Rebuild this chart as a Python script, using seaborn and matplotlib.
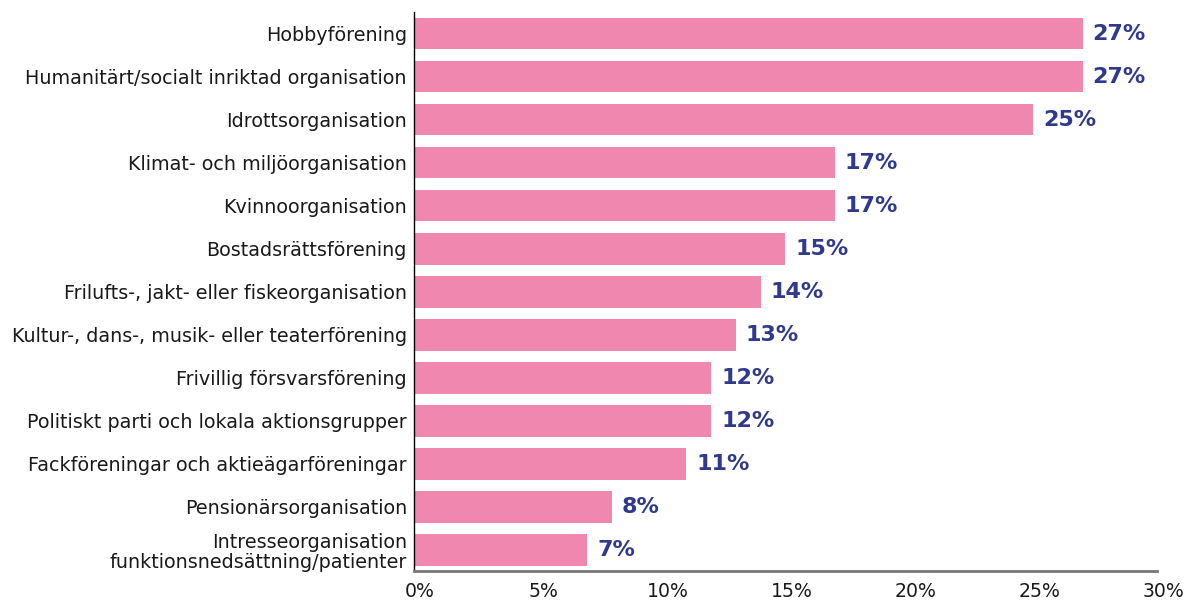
import pandas as pd
import matplotlib.pyplot as plt
import matplotlib.transforms as mtransforms
import seaborn as sns

categories = [
    "Hobbyförening",
    "Humanitärt/socialt inriktad organisation",
    "Idrottsorganisation",
    "Klimat- och miljöorganisation",
    "Kvinnoorganisation",
    "Bostadsrättsförening",
    "Frilufts-, jakt- eller fiskeorganisation",
    "Kultur-, dans-, musik- eller teaterförening",
    "Frivillig försvarsförening",
    "Politiskt parti och lokala aktionsgrupper",
    "Fackföreningar och aktieägarföreningar",
    "Pensionärsorganisation",
    "Intresseorganisation\nfunktionsnedsättning/patienter",
]
shares = [27, 27, 25, 17, 17, 15, 14, 13, 12, 12, 11, 8, 7]
xticks = [0, 5, 10, 15, 20, 25, 30]

data = pd.DataFrame({"category": categories, "share": shares})

sns.set_style("white")
plt.rcParams["font.family"] = ["DejaVu Sans"]

fig = plt.figure(figsize=(11.86, 6), dpi=100)
ax = fig.add_axes([0.349, 0.048, 0.6266, 0.932])

sns.barplot(data=data, x="share", y="category", color="#F087AF",
            saturation=1, width=0.74, linewidth=0, ax=ax)

# value labels next to bars
for i, v in enumerate(data["share"]):
    ax.text(v + 0.4, i, f"{v}%", va="center", ha="left",
            fontsize=16, fontweight="heavy", color="#2F3A8F")

ax.set_xlim(0, 30)
ax.set_xticks(xticks)
ax.set_xticklabels([f"{t}%" for t in xticks])
ax.set_xlabel("")
ax.set_ylabel("")
ax.tick_params(axis="y", length=0, pad=5, labelsize=13.8, labelcolor="#1a1a1a")
ax.tick_params(axis="x", length=0, pad=8, labelsize=13.6, labelcolor="#1a1a1a")
for lbl in ax.get_yticklabels():
    lbl.set_linespacing(1.1)
# x labels sit a little right of their ticks in the original
shift = mtransforms.ScaledTranslation(6 / 100, 0, fig.dpi_scale_trans)
for lbl in ax.get_xticklabels():
    lbl.set_transform(lbl.get_transform() + shift)

for s in ["top", "right"]:
    ax.spines[s].set_visible(False)
ax.spines["left"].set_color("black")
ax.spines["left"].set_linewidth(1)
ax.spines["bottom"].set_color("#777777")
ax.spines["bottom"].set_linewidth(2)

fig.savefig("out.png", dpi=100)
